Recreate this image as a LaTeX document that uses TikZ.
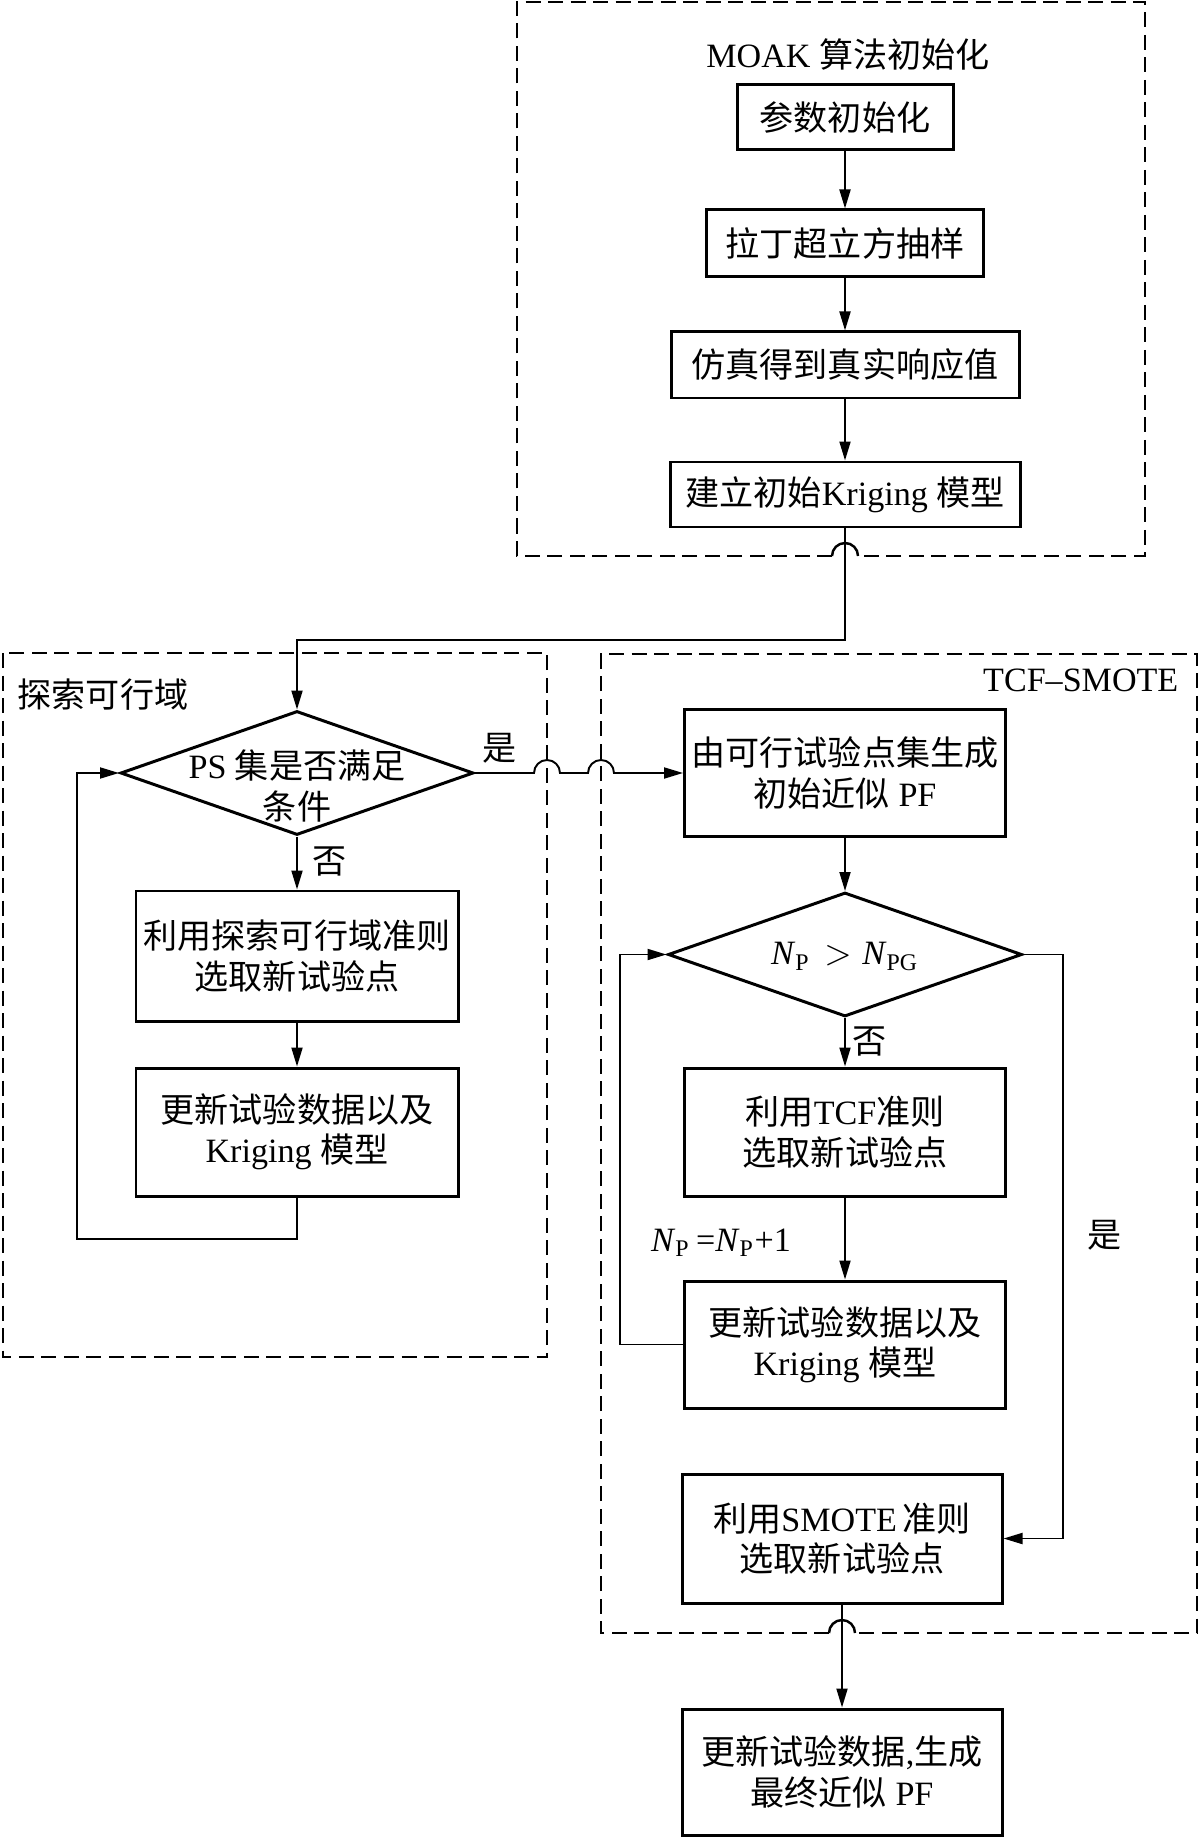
\documentclass[tikz,border=0pt]{standalone}
\usepackage{fontspec}
\setmainfont{Liberation Serif}
\newfontfamily\zhfont{Noto Sans CJK SC}
\newcommand{\zh}[1]{{\zhfont #1}}
\usetikzlibrary{shapes.geometric, arrows.meta}

\begin{document}
\begin{tikzpicture}[
    font=\fontsize{9.7pt}{11.5pt}\selectfont,
    box/.style={draw, line width=0.85pt, align=center, inner sep=0pt},
    dia/.style={draw, diamond, line width=0.85pt, inner sep=0pt},
    frame/.style={line width=0.7pt, dash pattern=on 1.5mm off 0.75mm},
    bump/.style={line width=0.7pt},
    arr/.style={line width=0.55pt, -{Triangle[length=1.9mm, width=1.1mm]}},
    tag/.style={inner sep=0pt}
]
    \useasboundingbox (0,0) rectangle (12,-18.4);

    \begin{scope}
        \draw[frame] (8.32,-5.56) -| (5.17,-0.02) -| (11.45,-5.56) -- (8.58,-5.56);
        \draw[bump] (8.32,-5.56) arc[start angle=180, end angle=0, radius=0.13];
        \node[tag] (moak) at (8.48,-0.54) {MOAK \zh{算法初始化}};

        \node[box, minimum width=2.16cm, minimum height=0.65cm] (param) at (8.45,-1.175) {\zh{参数初始化}};
        \node[box, minimum width=2.77cm, minimum height=0.67cm] (lhs) at (8.45,-2.435) {\zh{拉丁超立方抽样}};
        \node[box, minimum width=3.48cm, minimum height=0.66cm] (sim) at (8.45,-3.65) {\zh{仿真得到真实响应值}};
        \node[box, minimum width=3.50cm, minimum height=0.65cm] (krig) at (8.45,-4.945) {\zh{建立初始}Kriging \zh{模型}};

        \draw[arr] (param) -- (lhs);
        \draw[arr] (lhs) -- (sim);
        \draw[arr] (sim) -- (krig);
    \end{scope}

    \begin{scope}
        \draw[frame] (0.03,-6.53) rectangle (5.47,-13.57);
        \node[tag] (explore) at (1.03,-6.95) {\zh{探索可行域}};

        \node[dia, minimum width=3.53cm, minimum height=1.24cm,
            label={[align=center, yshift=-0.13cm]center:PS \zh{集是否满足}\\\zh{条件}}] (ps) at (2.97,-7.73) {};
        \node[box, minimum width=3.22cm, minimum height=1.30cm] (pick) at (2.97,-9.56) {\zh{利用探索可行域准则}\\\zh{选取新试验点}};
        \node[box, minimum width=3.22cm, minimum height=1.28cm] (upd) at (2.97,-11.32) {\zh{更新试验数据以及}\\Kriging \zh{模型}};
        \node[tag] (psyes) at (5.00,-7.48) {\zh{是}};
        \node[tag] (psno) at (3.30,-8.62) {\zh{否}};
        \coordinate (lp) at (0.77,-12.39);

        \draw[arr] (ps) -- (pick);
        \draw[arr] (pick) -- (upd);
        \draw[arr] (upd) |- (lp) |- (ps);
    \end{scope}

    \begin{scope}
        \draw[frame] (8.29,-16.33) -| (6.01,-6.54) -| (11.97,-16.33) -- (8.55,-16.33);
        \draw[bump] (8.29,-16.33) arc[start angle=180, end angle=0, radius=0.13];
        \node[tag, anchor=east] (tcf) at (11.79,-6.80) {TCF--SMOTE};

        \node[box, minimum width=3.21cm, minimum height=1.27cm] (front) at (8.45,-7.73) {\zh{由可行试验点集生成}\\\zh{初始近似} PF};
        \node[dia, minimum width=3.54cm, minimum height=1.24cm,
            label={[yshift=-0.02cm]center:\textit{N}\textsubscript{P}\hspace{4pt}$>$\hspace{3pt}\textit{N}\textsubscript{PG}}] (cnt) at (8.45,-9.545) {};
        \node[box, minimum width=3.21cm, minimum height=1.28cm] (tcfpick) at (8.45,-11.32) {\zh{利用}TCF\zh{准则}\\\zh{选取新试验点}};
        \node[box, minimum width=3.21cm, minimum height=1.27cm] (tcfupd) at (8.45,-13.445) {\zh{更新试验数据以及}\\Kriging \zh{模型}};
        \node[box, minimum width=3.20cm, minimum height=1.29cm] (smote) at (8.42,-15.385) {\zh{利用}SMOTE\,\zh{准则}\\\zh{选取新试验点}};
        \node[tag] (cntno) at (8.70,-10.42) {\zh{否}};
        \node[tag] (cntyes) at (11.05,-12.35) {\zh{是}};
        \node[tag] (incr) at (7.21,-12.43) {\textit{N}\textsubscript{P}\,=\textit{N}\textsubscript{P}+1};
        \coordinate (rp) at (6.20,-13.445);
        \coordinate (ry) at (10.63,-9.545);

        \draw[arr] (front) -- (cnt);
        \draw[arr] (cnt) -- (tcfpick);
        \draw[arr] (tcfpick) -- (tcfupd);
        \draw[arr] (tcfupd) -- (rp) |- (cnt);
        \draw[arr] (cnt) -- (ry) |- (smote);
    \end{scope}

    \node[box, minimum width=3.20cm, minimum height=1.26cm] (final) at (8.42,-17.72) {\zh{更新试验数据},\zh{生成}\\\zh{最终近似} PF};

    \coordinate (turn) at (8.45,-6.40);
    \draw[arr] (krig) -- (turn) -| (ps);
    \draw[arr] (ps.east) -- (5.34,-7.73) arc[start angle=180, end angle=0, radius=0.13]
        -- (5.88,-7.73) arc[start angle=180, end angle=0, radius=0.13] -- (front.west);
    \draw[arr] (smote) -- (final);
\end{tikzpicture}
\end{document}
